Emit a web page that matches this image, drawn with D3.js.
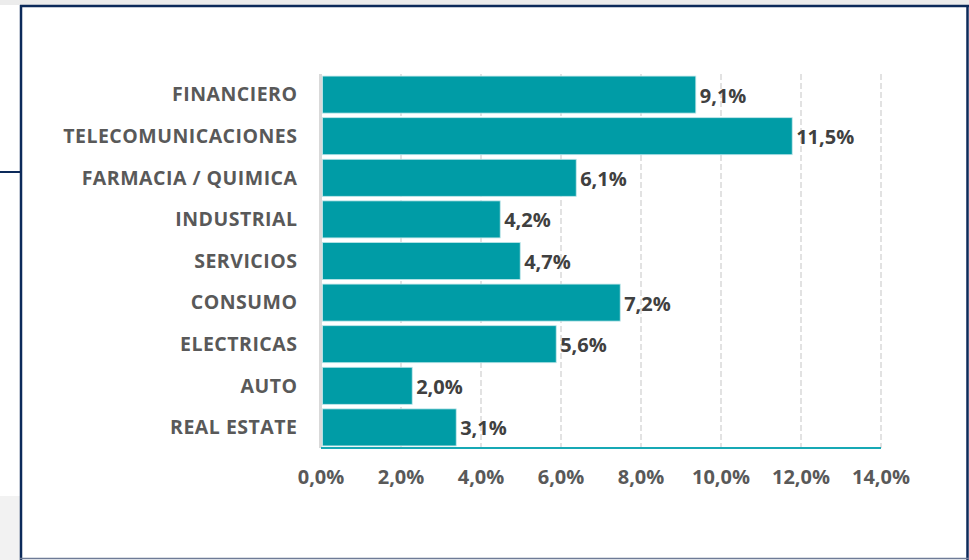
<!DOCTYPE html>
<html>
<head>
<meta charset="utf-8">
<script src="https://cdn.jsdelivr.net/npm/d3@7"></script>
<style>
  body { margin: 0; background: #fff; }
  svg { display: block; }
</style>
</head>
<body>
<div id="chart"></div>
<script>
(function() {
  var width = 969, height = 560;

  // sectors, top to bottom
  var sectors = ['FINANCIERO','TELECOMUNICACIONES','FARMACIA / QUIMICA','INDUSTRIAL','SERVICIOS','CONSUMO','ELECTRICAS','AUTO','REAL ESTATE'];
  // bar lengths as drawn (%)
  var barValues = [9.37, 11.78, 6.38, 4.48, 4.98, 7.48, 5.88, 2.28, 3.38];
  // labels printed next to the bars
  var valueLabels = ['9,1%','11,5%','6,1%','4,2%','4,7%','7,2%','5,6%','2,0%','3,1%'];
  var ticks = [0, 2, 4, 6, 8, 10, 12, 14];

  var font = "'Open Sans', Lato, sans-serif";

  var svg = d3.select("#chart")
    .append("svg")
    .attr("width", width)
    .attr("height", height);

  // page bits outside the frame
  svg.append("rect").attr("x", 0).attr("y", 0).attr("width", width).attr("height", 5).attr("fill", "#ececec");
  svg.append("rect").attr("x", 0).attr("y", 496).attr("width", 20).attr("height", 64).attr("fill", "#f2f2f2");
  svg.append("rect").attr("x", 0).attr("y", 171).attr("width", 20).attr("height", 2).attr("fill", "#0c2a5a");

  // frame
  svg.append("rect").attr("x", 20).attr("y", 5).attr("width", 949).attr("height", 555).attr("fill", "#fff");
  svg.append("line").attr("x1", 20).attr("x2", 969).attr("y1", 6).attr("y2", 6).attr("stroke", "#0c2a5a").attr("stroke-width", 2.5);
  svg.append("line").attr("x1", 21).attr("x2", 21).attr("y1", 5).attr("y2", 560).attr("stroke", "#0c2a5a").attr("stroke-width", 2.5);
  svg.append("line").attr("x1", 967.5).attr("x2", 967.5).attr("y1", 5).attr("y2", 560).attr("stroke", "#0c2a5a").attr("stroke-width", 2.5);
  svg.append("line").attr("x1", 20).attr("x2", 969).attr("y1", 558.5).attr("y2", 558.5).attr("stroke", "#6e7b96").attr("stroke-width", 1.5);

  var xScale = d3.scaleLinear().domain([0, 14]).range([321, 881]);
  var yScale = d3.scaleBand().domain(sectors).range([74, 448]).paddingInner(0.11).paddingOuter(0.05);

  // gridlines
  svg.selectAll(".grid")
    .data(ticks.slice(1))
    .enter().append("line")
    .attr("class", "grid")
    .attr("x1", function(d) { return xScale(d); })
    .attr("x2", function(d) { return xScale(d); })
    .attr("y1", 74)
    .attr("y2", 448)
    .attr("stroke", "#d9d9d9")
    .attr("stroke-width", 1.5)
    .attr("stroke-dasharray", "6,3");

  // left axis line
  svg.append("line")
    .attr("x1", 320.5).attr("x2", 320.5)
    .attr("y1", 74).attr("y2", 448)
    .attr("stroke", "#d9d9d9").attr("stroke-width", 3);

  // bars
  svg.selectAll(".bar")
    .data(sectors)
    .enter().append("rect")
    .attr("class", "bar")
    .attr("x", xScale(0) + 1.5)
    .attr("y", function(d) { return yScale(d); })
    .attr("width", function(d, i) { return xScale(barValues[i]) - xScale(0) - 1.5; })
    .attr("height", yScale.bandwidth())
    .attr("fill", "#009ca6")
    .attr("stroke", "#bfe6e9")
    .attr("stroke-width", 0.8);

  // bottom axis line
  svg.append("line")
    .attr("x1", xScale(0)).attr("x2", xScale(14))
    .attr("y1", 448).attr("y2", 448)
    .attr("stroke", "#17a9b5").attr("stroke-width", 2);

  // value labels
  svg.selectAll(".val")
    .data(sectors)
    .enter().append("text")
    .attr("class", "val")
    .attr("x", function(d, i) { return xScale(barValues[i]) + 4; })
    .attr("y", function(d) { return yScale(d) + yScale.bandwidth() / 2 + 1; })
    .attr("dy", ".35em")
    .text(function(d, i) { return valueLabels[i]; })
    .style("font-family", font)
    .style("font-weight", "bold")
    .style("font-size", "20px")
    .style("fill", "#404040");

  // category labels
  svg.selectAll(".cat")
    .data(sectors)
    .enter().append("text")
    .attr("class", "cat")
    .attr("text-anchor", "end")
    .attr("x", 297.5)
    .attr("y", function(d) { return yScale(d) + yScale.bandwidth() / 2; })
    .attr("dy", ".35em")
    .text(function(d) { return d; })
    .style("font-family", font)
    .style("font-weight", "bold")
    .style("font-size", "19.5px")
    .style("letter-spacing", "0.5px")
    .style("fill", "#595959");

  // tick labels
  svg.selectAll(".tick-label")
    .data(ticks)
    .enter().append("text")
    .attr("class", "tick-label")
    .attr("text-anchor", "middle")
    .attr("x", function(d) { return xScale(d); })
    .attr("y", 477)
    .attr("dy", ".35em")
    .text(function(d) { return d.toFixed(1).replace(".", ",") + "%"; })
    .style("font-family", font)
    .style("font-weight", "bold")
    .style("font-size", "20px")
    .style("fill", "#595959");
})();
</script>
</body>
</html>
